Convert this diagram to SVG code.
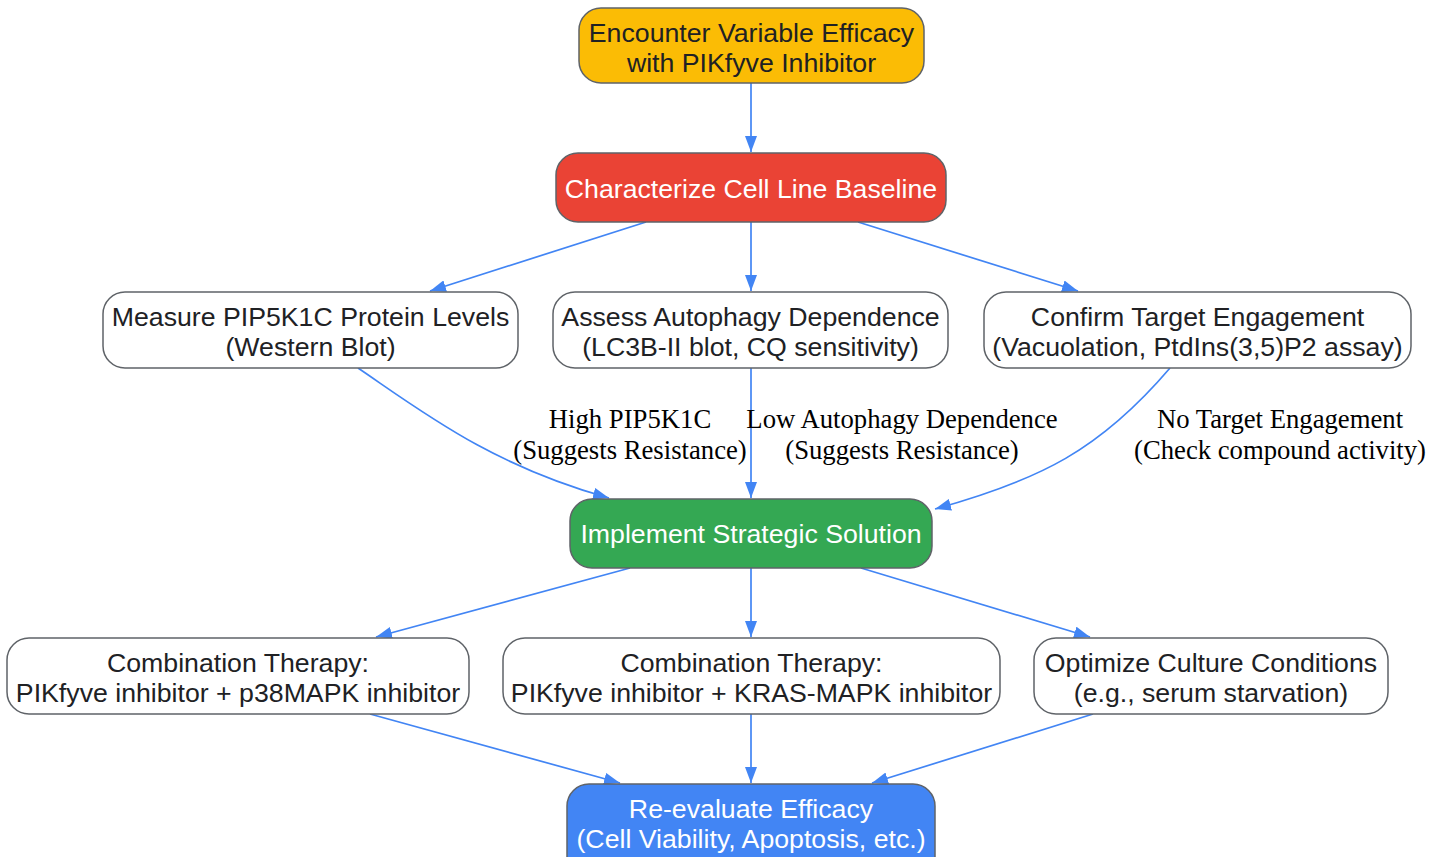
<svg xmlns="http://www.w3.org/2000/svg" width="1442" height="857" viewBox="0 0 1442 857">
<style>
.n{stroke:#5f6368;stroke-width:1.5}
.t{font-family:"Liberation Sans",Arial,sans-serif;font-size:26.7px;text-anchor:middle;fill:#202124}
.w{fill:#ffffff}
.l{font-family:"Liberation Serif","Times New Roman",serif;font-size:26.7px;text-anchor:middle;fill:#000000}
.e{fill:none;stroke:#4285F4;stroke-width:1.7;marker-end:url(#a)}
</style>
<defs>
<marker id="a" viewBox="0 0 16 12" refX="16" refY="6" markerWidth="16" markerHeight="12" markerUnits="userSpaceOnUse" orient="auto">
<path d="M0,0 L16,6 L0,12 z" fill="#4285F4"/>
</marker>
</defs>
<rect width="1442" height="857" fill="#ffffff"/>
<g id="connectors">
<path class="e" d="M751,83 L751,152"/>
<path class="e" d="M646,222 L430,291"/>
<path class="e" d="M751,222 L751,291"/>
<path class="e" d="M858,222 L1078,291"/>
<path class="e" d="M358,368 C420,410 490,465 609,498"/>
<path class="e" d="M751,368 L751,498"/>
<path class="e" d="M1170,368 C1100,450 1040,480 935,509"/>
<path class="e" d="M630,568 L376,637"/>
<path class="e" d="M751,568 L751,637"/>
<path class="e" d="M861,568 L1090,637"/>
<path class="e" d="M370,714 L620,783"/>
<path class="e" d="M751,714 L751,783"/>
<path class="e" d="M1093,714 L872,783"/>
</g>
<g id="labels">
<text class="l" x="630" y="428">High PIP5K1C</text>
<text class="l" x="630" y="459">(Suggests Resistance)</text>
<text class="l" x="902" y="428">Low Autophagy Dependence</text>
<text class="l" x="902" y="459">(Suggests Resistance)</text>
<text class="l" x="1280" y="428">No Target Engagement</text>
<text class="l" x="1280" y="459">(Check compound activity)</text>
</g>
<g id="n1"><rect class="n" x="579" y="8" width="345" height="75" rx="22" fill="#FBBC05"/>
<text class="t" x="751.5" y="42">Encounter Variable Efficacy</text>
<text class="t" x="751.5" y="72">with PIKfyve Inhibitor</text></g>
<g id="n2"><rect class="n" x="556" y="153" width="390" height="69" rx="22" fill="#EA4335"/>
<text class="t w" x="751" y="198">Characterize Cell Line Baseline</text></g>
<g id="n3"><rect class="n" x="103" y="292" width="415" height="76" rx="22" fill="#ffffff"/>
<text class="t" x="310.5" y="326">Measure PIP5K1C Protein Levels</text>
<text class="t" x="310.5" y="356">(Western Blot)</text></g>
<g id="n4"><rect class="n" x="553" y="292" width="395" height="76" rx="22" fill="#ffffff"/>
<text class="t" x="750.5" y="326">Assess Autophagy Dependence</text>
<text class="t" x="750.5" y="356">(LC3B-II blot, CQ sensitivity)</text></g>
<g id="n5"><rect class="n" x="984" y="292" width="427" height="76" rx="22" fill="#ffffff"/>
<text class="t" x="1197.5" y="326">Confirm Target Engagement</text>
<text class="t" x="1197.5" y="356">(Vacuolation, PtdIns(3,5)P2 assay)</text></g>
<g id="n6"><rect class="n" x="570" y="499" width="362" height="69" rx="22" fill="#34A853"/>
<text class="t w" x="751" y="543">Implement Strategic Solution</text></g>
<g id="n7"><rect class="n" x="7" y="638" width="462" height="76" rx="22" fill="#ffffff"/>
<text class="t" x="238" y="672">Combination Therapy:</text>
<text class="t" x="238" y="702">PIKfyve inhibitor + p38MAPK inhibitor</text></g>
<g id="n8"><rect class="n" x="503" y="638" width="497" height="76" rx="22" fill="#ffffff"/>
<text class="t" x="751.5" y="672">Combination Therapy:</text>
<text class="t" x="751.5" y="702">PIKfyve inhibitor + KRAS-MAPK inhibitor</text></g>
<g id="n9"><rect class="n" x="1034" y="638" width="354" height="76" rx="22" fill="#ffffff"/>
<text class="t" x="1211" y="672">Optimize Culture Conditions</text>
<text class="t" x="1211" y="702">(e.g., serum starvation)</text></g>
<g id="n10"><rect class="n" x="567" y="784" width="368" height="96" rx="22" fill="#4285F4"/>
<text class="t w" x="751" y="818">Re-evaluate Efficacy</text>
<text class="t w" x="751" y="848">(Cell Viability, Apoptosis, etc.)</text></g>
</svg>
